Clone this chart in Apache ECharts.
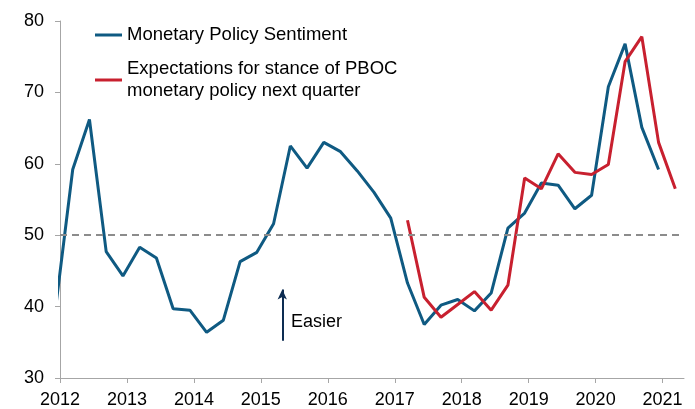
<!DOCTYPE html>
<html>
<head>
<meta charset="utf-8">
<script src="https://cdn.jsdelivr.net/npm/echarts@6/dist/echarts.min.js"></script>
<style>
  html, body { margin: 0; padding: 0; background: #fff; }
  #chart { width: 695px; height: 409px; }
</style>
</head>
<body>
<div id="chart"></div>
<script>
// quarterly readings, "YYYY Qn"
const sentimentQuarters = [
  "2011 Q4",
  "2012 Q1", "2012 Q2", "2012 Q3", "2012 Q4",
  "2013 Q1", "2013 Q2", "2013 Q3", "2013 Q4",
  "2014 Q1", "2014 Q2", "2014 Q3", "2014 Q4",
  "2015 Q1", "2015 Q2", "2015 Q3", "2015 Q4",
  "2016 Q1", "2016 Q2", "2016 Q3", "2016 Q4",
  "2017 Q1", "2017 Q2", "2017 Q3", "2017 Q4",
  "2018 Q1", "2018 Q2", "2018 Q3", "2018 Q4",
  "2019 Q1", "2019 Q2", "2019 Q3", "2019 Q4",
  "2020 Q1", "2020 Q2", "2020 Q3", "2020 Q4"
];
const sentimentValues = [
  40.2,
  59.2, 66.2, 47.7, 44.3,
  48.3, 46.8, 39.7, 39.5,
  36.4, 38.1, 46.3, 47.6,
  51.6, 62.5, 59.4, 63.0,
  61.7, 59.0, 56.0, 52.4,
  43.3, 37.5, 40.2, 41.0,
  39.4, 41.9, 51.0, 53.1,
  57.3, 57.0, 53.7, 55.6,
  70.8, 76.8, 65.1, 59.2
];
const expectationQuarters = [
  "2017 Q1", "2017 Q2", "2017 Q3", "2017 Q4",
  "2018 Q1", "2018 Q2", "2018 Q3", "2018 Q4",
  "2019 Q1", "2019 Q2", "2019 Q3", "2019 Q4",
  "2020 Q1", "2020 Q2", "2020 Q3", "2020 Q4",
  "2021 Q1"
];
const expectationValues = [
  52.1, 41.3, 38.5, 40.3,
  42.1, 39.5, 43.0, 58.0,
  56.5, 61.4, 58.8, 58.5,
  59.9, 74.3, 77.8, 63.0,
  56.5
];
const yearTicks = [2012, 2013, 2014, 2015, 2016, 2017, 2018, 2019, 2020, 2021];
const neutralLevel = 50;

const FONT = '"Liberation Sans", Arial, sans-serif';

// position of a quarter on the year axis (points sit ~mid March, June, ...)
function quarterPos(q) {
  const parts = q.split(" Q");
  return +parts[0] + (+parts[1] - 1) * 0.25 + 0.19;
}
function toPairs(quarters, values) {
  return quarters.map((q, i) => [quarterPos(q), values[i]]);
}

const chart = echarts.init(document.getElementById("chart"));
const option = {
  animation: false,
  grid: {
    left: 60,
    right: 11,
    top: 21,
    bottom: 30,
    containLabel: false
  },
  legend: [
    {
      data: ["Monetary Policy Sentiment"],
      left: 95,
      top: 24,
      padding: 0,
      icon: "rect",
      itemWidth: 27,
      itemHeight: 3,
      selectedMode: false,
      textStyle: { color: "#000", fontSize: 18.5, lineHeight: 22, fontFamily: FONT }
    },
    {
      data: ["Expectations for stance of PBOC monetary policy next quarter"],
      left: 95,
      top: 47,
      padding: 0,
      icon: "rect",
      itemWidth: 27,
      itemHeight: 3,
      selectedMode: false,
      formatter() {
        return "Expectations for stance of PBOC\nmonetary policy next quarter";
      },
      textStyle: { color: "#000", fontSize: 18.5, lineHeight: 22, fontFamily: FONT, padding: [22, 0, 0, 0] }
    }
  ],
  xAxis: {
    type: "value",
    min: 2012,
    max: 2021.32,
    interval: 1,
    axisLine: { lineStyle: { color: "#a6a6a6", width: 1 } },
    axisTick: { show: true, length: 5, lineStyle: { color: "#a6a6a6" }, customValues: yearTicks },
    splitLine: { show: false },
    axisLabel: {
      customValues: yearTicks,
      margin: 13,
      color: "#000",
      fontSize: 18,
      fontFamily: FONT,
      formatter: v => String(v)
    }
  },
  yAxis: {
    type: "value",
    min: 30,
    max: 80,
    interval: 10,
    axisLine: { show: true, lineStyle: { color: "#a6a6a6", width: 1 } },
    axisTick: { show: true, length: 5, lineStyle: { color: "#a6a6a6" } },
    splitLine: { show: false },
    axisLabel: { margin: 16, color: "#000", fontSize: 18, fontFamily: FONT }
  },
  series: [
    {
      name: "Monetary Policy Sentiment",
      type: "line",
      symbol: "none",
      clip: true,
      lineStyle: { color: "#0f5a82", width: 3 },
      itemStyle: { color: "#0f5a82" },
      data: toPairs(sentimentQuarters, sentimentValues),
      markLine: {
        silent: true,
        animation: false,
        symbol: "none",
        label: { show: false },
        lineStyle: { color: "#8c8c8c", type: [7, 5], width: 2 },
        data: [{ yAxis: neutralLevel }]
      },
      z: 3
    },
    {
      name: "Expectations for stance of PBOC monetary policy next quarter",
      type: "line",
      symbol: "none",
      lineStyle: { color: "#c8202f", width: 3 },
      itemStyle: { color: "#c8202f" },
      data: toPairs(expectationQuarters, expectationValues),
      // "Easier" arrow
      markLine: {
        silent: true,
        animation: false,
        symbolSize: [7, 10],
        label: { show: false },
        lineStyle: { color: "#0d2d52", type: "solid", width: 2 },
        data: [[
          { coord: [2015.32, 35.2], symbol: "none" },
          { coord: [2015.32, 42.4], symbol: "arrow" }
        ]]
      },
      z: 4
    }
  ],
  graphic: [
    {
      type: "text",
      x: 291,
      y: 322,
      style: { text: "Easier", font: "18px " + FONT, fill: "#000", verticalAlign: "middle" }
    }
  ]
};
chart.setOption(option);
</script>
</body>
</html>
